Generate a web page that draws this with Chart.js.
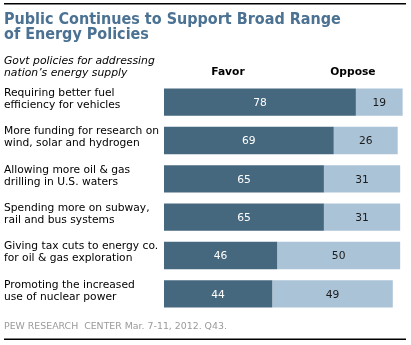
<!DOCTYPE html>
<html>
<head>
<meta charset="utf-8">
<script src="https://cdn.jsdelivr.net/npm/chart.js@4/dist/chart.umd.min.js"></script>
<style>
html,body{margin:0;padding:0;background:#fff;}
#wrap{position:relative;width:411px;height:345px;}
</style>
</head>
<body>
<div id="wrap"><canvas id="c" width="411" height="345"></canvas></div>
<script>
// ---- data ----
const categories = [
  ["Requiring better fuel", "efficiency for vehicles"],
  ["More funding for research on", "wind, solar and hydrogen"],
  ["Allowing more oil & gas", "drilling in U.S. waters"],
  ["Spending more on subway,", "rail and bus systems"],
  ["Giving tax cuts to energy co.", "for oil & gas exploration"],
  ["Promoting the increased", "use of nuclear power"]
];
const favorValues = [78, 69, 65, 65, 46, 44];
const opposeValues = [19, 26, 31, 31, 50, 49];
const seriesNames = ["Favor", "Oppose"];
const titleLines = ["Public Continues to Support Broad Range", "of Energy Policies"];
const subtitleLines = ["Govt policies for addressing", "nation\u2019s energy supply"];
const footerText = "PEW RESEARCH  CENTER Mar. 7-11, 2012. Q43.";

// ---- style ----
const DARK = "#46687f";
const LIGHT = "#abc3d7";
const TITLE_COLOR = "#4b7292";
const FAMILY = '"DejaVu Sans", Verdana, sans-serif';

const decor = {
  id: "decor",
  afterDraw(chart) {
    const ctx = chart.ctx;
    const xs = chart.scales.x;
    ctx.save();
    // rules
    ctx.fillStyle = "#000";
    ctx.fillRect(4, 3, 402, 1.5);
    ctx.fillRect(4, 338.5, 402, 1.5);
    // title
    ctx.textAlign = "left";
    ctx.textBaseline = "alphabetic";
    ctx.fillStyle = TITLE_COLOR;
    ctx.font = 'bold 16px "DejaVu Sans Condensed", "DejaVu Sans", sans-serif';
    ctx.fillText(titleLines[0], 4, 23.5);
    ctx.fillText(titleLines[1], 4, 38.5);
    // subtitle
    ctx.fillStyle = "#000";
    ctx.font = "italic 10.8px " + FAMILY;
    ctx.fillText(subtitleLines[0], 4, 63.5);
    ctx.fillText(subtitleLines[1], 4, 75.5);
    // column headers
    ctx.font = "bold 10.7px " + FAMILY;
    ctx.textAlign = "center";
    ctx.fillText(seriesNames[0], xs.getPixelForValue(26), 75);
    ctx.fillText(seriesNames[1], xs.getPixelForValue(76.8), 75);
    // footer
    ctx.textAlign = "left";
    ctx.fillStyle = "#9a9a9a";
    ctx.font = "9.4px " + FAMILY;
    ctx.fillText(footerText, 4, 329);
    ctx.restore();
  },
  afterDatasetsDraw(chart) {
    const ctx = chart.ctx;
    ctx.save();
    ctx.font = "10.7px " + FAMILY;
    ctx.textAlign = "center";
    ctx.textBaseline = "middle";
    chart.data.datasets.forEach((ds, di) => {
      const meta = chart.getDatasetMeta(di);
      ctx.fillStyle = di === 0 ? "#ffffff" : "#1a1a1a";
      meta.data.forEach((el, i) => {
        const p = el.getProps(["x", "y", "base"], true);
        ctx.fillText(String(ds.data[i]), (p.x + p.base) / 2, p.y + 1);
      });
    });
    ctx.restore();
  }
};

new Chart(document.getElementById("c"), {
  type: "bar",
  data: {
    labels: categories,
    datasets: [
      { label: seriesNames[0], data: favorValues, backgroundColor: DARK },
      { label: seriesNames[1], data: opposeValues, backgroundColor: LIGHT }
    ]
  },
  options: {
    indexAxis: "y",
    responsive: false,
    animation: false,
    devicePixelRatio: 1,
    barPercentage: 0.715,
    categoryPercentage: 1,
    layout: { padding: { left: 4, right: 1, top: 83, bottom: 32 } },
    plugins: { legend: { display: false }, tooltip: { enabled: false }, title: { display: false } },
    scales: {
      x: { stacked: true, min: 0, max: 100, display: false },
      y: {
        stacked: true,
        grid: { display: false, drawTicks: false },
        border: { display: false },
        afterFit(scale) { scale.width = 160; },
        ticks: {
          crossAlign: "far",
          labelOffset: -3,
          padding: 0,
          color: "#000",
          font: { family: FAMILY, size: 10.7, lineHeight: 1.12 }
        }
      }
    }
  },
  plugins: [decor]
});
</script>
</body>
</html>
